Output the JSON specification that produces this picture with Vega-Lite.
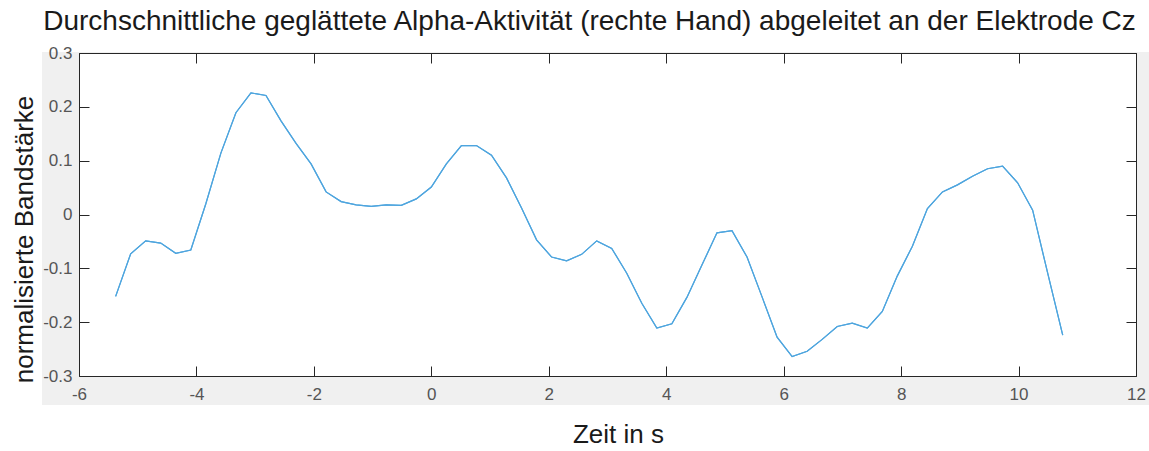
{
  "$schema": "https://vega.github.io/schema/vega-lite/v6.json",
  "width": 1057,
  "height": 323,
  "autosize": {"type": "none"},
  "padding": {"left": 79, "top": 53, "right": 13, "bottom": 75},
  "background": "white",
  "title": {
    "text": "Durchschnittliche geglättete Alpha-Aktivität (rechte Hand) abgeleitet an der Elektrode Cz",
    "font": "Liberation Sans",
    "fontSize": 28,
    "fontWeight": "normal",
    "color": "#1a1a1a",
    "anchor": "middle",
    "dx": -18,
    "offset": 8
  },
  "config": {
    "view": {"stroke": null},
    "axis": {
      "zindex": 1,
      "grid": false,
      "domainColor": "#262626",
      "tickColor": "#262626",
      "domainWidth": 1,
      "tickWidth": 1,
      "tickSize": -10,
      "labelFont": "Liberation Sans",
      "labelFontSize": 17,
      "labelColor": "#555555",
      "labelFlush": false,
      "labelOverlap": false,
      "labelExpr": "toString(datum.value)",
      "titleFont": "Liberation Sans",
      "titleFontSize": 26,
      "titleFontWeight": "normal",
      "titleColor": "#1a1a1a"
    }
  },
  "data": {
    "values": [
      {"t": -5.376, "v": -0.152},
      {"t": -5.12, "v": -0.073},
      {"t": -4.864, "v": -0.049},
      {"t": -4.608, "v": -0.053},
      {"t": -4.352, "v": -0.072},
      {"t": -4.096, "v": -0.066},
      {"t": -3.84, "v": 0.02},
      {"t": -3.584, "v": 0.114},
      {"t": -3.328, "v": 0.189},
      {"t": -3.072, "v": 0.226},
      {"t": -2.816, "v": 0.221},
      {"t": -2.56, "v": 0.174},
      {"t": -2.304, "v": 0.132},
      {"t": -2.048, "v": 0.094},
      {"t": -1.792, "v": 0.042},
      {"t": -1.536, "v": 0.024},
      {"t": -1.28, "v": 0.018},
      {"t": -1.024, "v": 0.015},
      {"t": -0.768, "v": 0.018},
      {"t": -0.512, "v": 0.017},
      {"t": -0.256, "v": 0.029},
      {"t": 0, "v": 0.051},
      {"t": 0.256, "v": 0.094},
      {"t": 0.512, "v": 0.128},
      {"t": 0.768, "v": 0.128},
      {"t": 1.024, "v": 0.11},
      {"t": 1.28, "v": 0.068},
      {"t": 1.536, "v": 0.012},
      {"t": 1.792, "v": -0.047},
      {"t": 2.048, "v": -0.079},
      {"t": 2.304, "v": -0.086},
      {"t": 2.56, "v": -0.074},
      {"t": 2.816, "v": -0.049},
      {"t": 3.072, "v": -0.063},
      {"t": 3.328, "v": -0.109},
      {"t": 3.584, "v": -0.165},
      {"t": 3.84, "v": -0.211},
      {"t": 4.096, "v": -0.203},
      {"t": 4.352, "v": -0.154},
      {"t": 4.608, "v": -0.094},
      {"t": 4.864, "v": -0.034},
      {"t": 5.12, "v": -0.03},
      {"t": 5.376, "v": -0.079},
      {"t": 5.632, "v": -0.153},
      {"t": 5.888, "v": -0.228},
      {"t": 6.144, "v": -0.264},
      {"t": 6.4, "v": -0.254},
      {"t": 6.656, "v": -0.232},
      {"t": 6.912, "v": -0.208},
      {"t": 7.168, "v": -0.202},
      {"t": 7.424, "v": -0.211},
      {"t": 7.68, "v": -0.18},
      {"t": 7.936, "v": -0.114},
      {"t": 8.192, "v": -0.059},
      {"t": 8.448, "v": 0.011},
      {"t": 8.704, "v": 0.042},
      {"t": 8.96, "v": 0.055},
      {"t": 9.216, "v": 0.071},
      {"t": 9.472, "v": 0.085},
      {"t": 9.728, "v": 0.09},
      {"t": 9.984, "v": 0.059},
      {"t": 10.24, "v": 0.008},
      {"t": 10.496, "v": -0.109},
      {"t": 10.752, "v": -0.224}
    ]
  },
  "resolve": {"axis": {"x": "independent", "y": "independent"}},
  "layer": [
    {
      "data": {"values": [{}]},
      "mark": {"type": "rect", "color": "#f0f0f0", "clip": false},
      "encoding": {
        "x": {"datum": -6.63, "type": "quantitative", "scale": {"domain": [-6, 12], "nice": false, "zero": false}, "axis": null},
        "x2": {"datum": 12.25},
        "y": {"datum": 0.302, "type": "quantitative", "scale": {"domain": [-0.3, 0.3], "nice": false, "zero": false}, "axis": null},
        "y2": {"datum": -0.354}
      }
    },
    {
      "data": {"values": [{}]},
      "mark": {"type": "rect", "color": "white"},
      "encoding": {
        "x": {"datum": -6, "type": "quantitative", "scale": {"domain": [-6, 12], "nice": false, "zero": false}, "axis": null},
        "x2": {"datum": 12},
        "y": {"datum": 0.3, "type": "quantitative", "scale": {"domain": [-0.3, 0.3], "nice": false, "zero": false}, "axis": null},
        "y2": {"datum": -0.3}
      }
    },
    {
      "mark": {"type": "line", "color": "#4ea5de", "strokeWidth": 1.2},
      "encoding": {
        "x": {
          "field": "t", "type": "quantitative",
          "scale": {"domain": [-6, 12], "nice": false, "zero": false},
          "axis": {
            "orient": "bottom",
            "zindex": 2,
            "title": "Zeit in s",
            "values": [-6, -4, -2, 0, 2, 4, 6, 8, 10, 12],
            "labelPadding": 20,
            "titleX": 539,
            "titleY": 58,
            "titleAlign": "center",
            "titleBaseline": "middle"
          }
        },
        "y": {
          "field": "v", "type": "quantitative",
          "scale": {"domain": [-0.3, 0.3], "nice": false, "zero": false},
          "axis": {
            "orient": "left",
            "zindex": 2,
            "title": "normalisierte Bandstärke",
            "values": [-0.3, -0.2, -0.1, 0, 0.1, 0.2, 0.3],
            "labelPadding": 17,
            "titleX": -55,
            "titleY": 186,
            "titleAlign": "center",
            "titleBaseline": "middle",
            "titleAngle": -90
          }
        }
      }
    },
    {
      "mark": {"type": "line", "color": "#4ea5de", "strokeWidth": 1.2},
      "encoding": {
        "x": {
          "field": "t", "type": "quantitative",
          "scale": {"domain": [-6, 12], "nice": false, "zero": false},
          "axis": {"orient": "top", "zindex": 2, "title": null, "labels": false, "values": [-6, -4, -2, 0, 2, 4, 6, 8, 10, 12]}
        },
        "y": {
          "field": "v", "type": "quantitative",
          "scale": {"domain": [-0.3, 0.3], "nice": false, "zero": false},
          "axis": {"orient": "right", "zindex": 2, "title": null, "labels": false, "values": [-0.3, -0.2, -0.1, 0, 0.1, 0.2, 0.3]}
        }
      }
    }
  ]
}
